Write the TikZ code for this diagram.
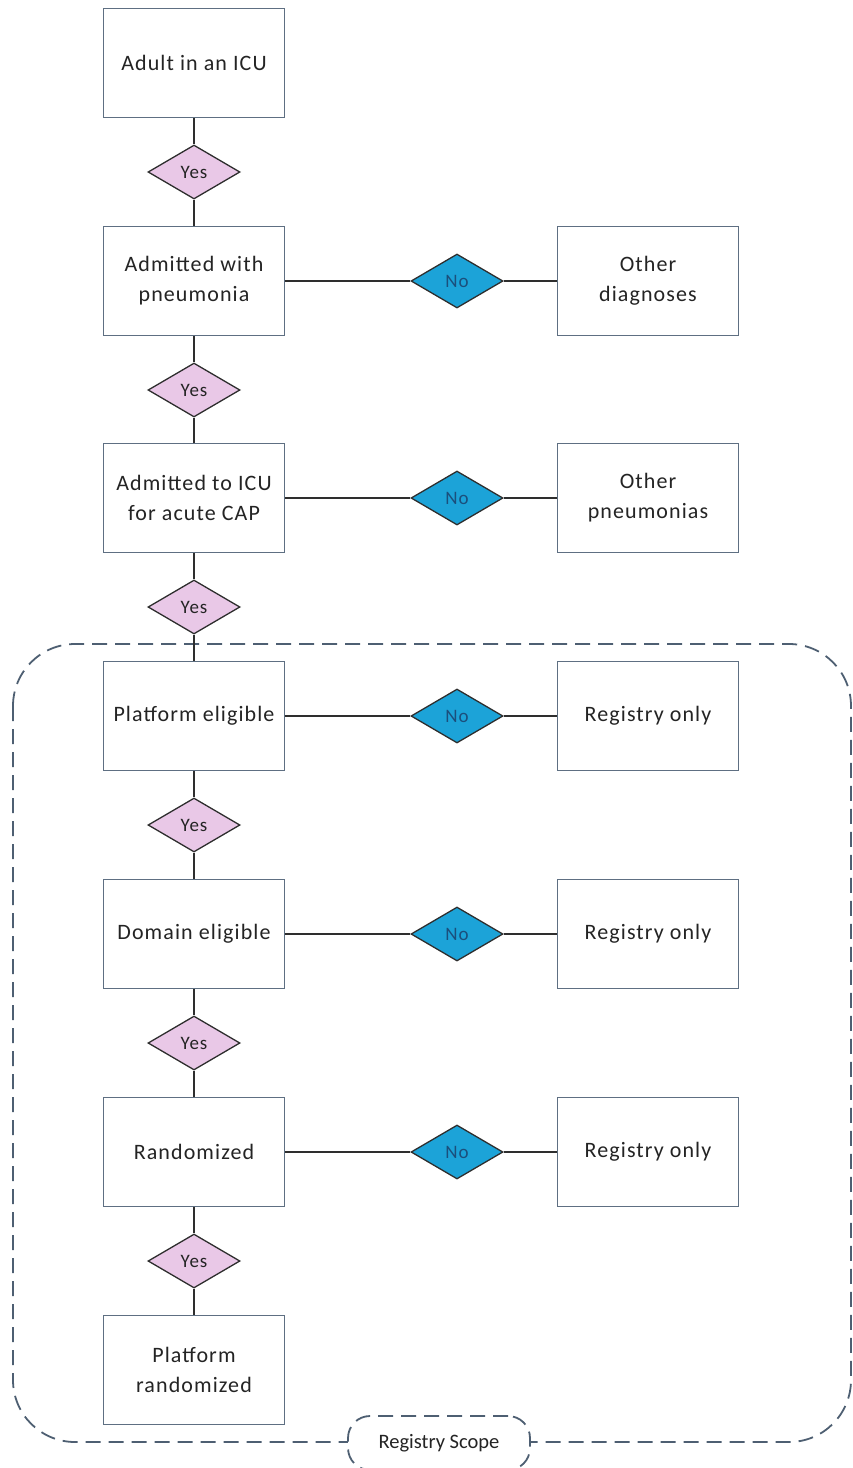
\documentclass[tikz,border=0pt]{standalone}
\usepackage{fontspec}
\setmainfont{Carlito}
\newfontfamily\boxfont[LetterSpace=5]{Carlito}
\usetikzlibrary{shapes.geometric}
\definecolor{boxline}{HTML}{5E6F82}
\definecolor{yesfill}{HTML}{E9C8E7}
\definecolor{nofill}{HTML}{1CA3D8}
\definecolor{notext}{HTML}{1B4F7C}
\definecolor{scopeline}{HTML}{4E5F72}
\definecolor{txt}{HTML}{242424}
\definecolor{linkcol}{HTML}{2E2E2E}

\begin{document}
\begin{tikzpicture}[x=1pt,y=-1pt,
  stepbox/.style={draw=boxline, line width=1.8pt, fill=white,
    minimum width=181pt, minimum height=109pt, inner sep=0pt,
    align=center, text=txt, font=\boxfont\fontsize{22}{30}\selectfont},
  yesdia/.style={diamond, draw=linkcol, line width=1.3pt, fill=yesfill,
    minimum width=92pt, minimum height=54pt, inner sep=0pt,
    text=txt, font=\boxfont\fontsize{19}{20}\selectfont},
  nodia/.style={yesdia, fill=nofill, text=notext},
  link/.style={draw=linkcol, line width=1.7pt},
  scope/.style={draw=scopeline, line width=1.8pt, dash pattern=on 15pt off 8pt}]

\useasboundingbox (0,0) rectangle (853,1468);

% registry scope outline with its label
\draw[scope, rounded corners=62pt] (13,644) rectangle (851,1442);
\node[draw=scopeline, line width=1.8pt, dash pattern=on 15pt off 8pt,
      fill=white, rounded corners=22pt, minimum width=182pt, minimum height=54pt,
      text=txt, font=\fontsize{20.5}{22}\selectfont] (scopelabel) at (439,1443) {Registry Scope};

% main column
\node[stepbox] (b1) at (194,63)   {Adult in an ICU};
\node[stepbox] (b2) at (194,281)  {Admitted with\\pneumonia};
\node[stepbox] (b3) at (194,498)  {Admitted to ICU\\for acute CAP};
\node[stepbox] (b4) at (194,716)  {Platform eligible};
\node[stepbox] (b5) at (194,934)  {Domain eligible};
\node[stepbox] (b6) at (194,1152) {Randomized};
\node[stepbox] (b7) at (194,1370) {Platform\\randomized};

\node[yesdia] (y1) at (194,172)  {Yes};
\node[yesdia] (y2) at (194,390)  {Yes};
\node[yesdia] (y3) at (194,607)  {Yes};
\node[yesdia] (y4) at (194,825)  {Yes};
\node[yesdia] (y5) at (194,1043) {Yes};
\node[yesdia] (y6) at (194,1261) {Yes};

% side column
\node[stepbox] (r2) at (648,281)  {Other\\diagnoses};
\node[stepbox] (r3) at (648,498)  {Other\\pneumonias};
\node[stepbox] (r4) at (648,716)  {Registry only};
\node[stepbox] (r5) at (648,934)  {Registry only};
\node[stepbox] (r6) at (648,1152) {Registry only};

\node[nodia] (n2) at (457,281)  {No};
\node[nodia] (n3) at (457,498)  {No};
\node[nodia] (n4) at (457,716)  {No};
\node[nodia] (n5) at (457,934)  {No};
\node[nodia] (n6) at (457,1152) {No};

% connectors
\foreach \i/\j in {1/2,2/3,3/4,4/5,5/6,6/7}{
  \draw[link] (b\i.south) -- (y\i.north);
  \draw[link] (y\i.south) -- (b\j.north);
}
\foreach \i in {2,...,6}{
  \draw[link] (b\i.east) -- (n\i.west);
  \draw[link] (n\i.east) -- (r\i.west);
}
\end{tikzpicture}
\end{document}
